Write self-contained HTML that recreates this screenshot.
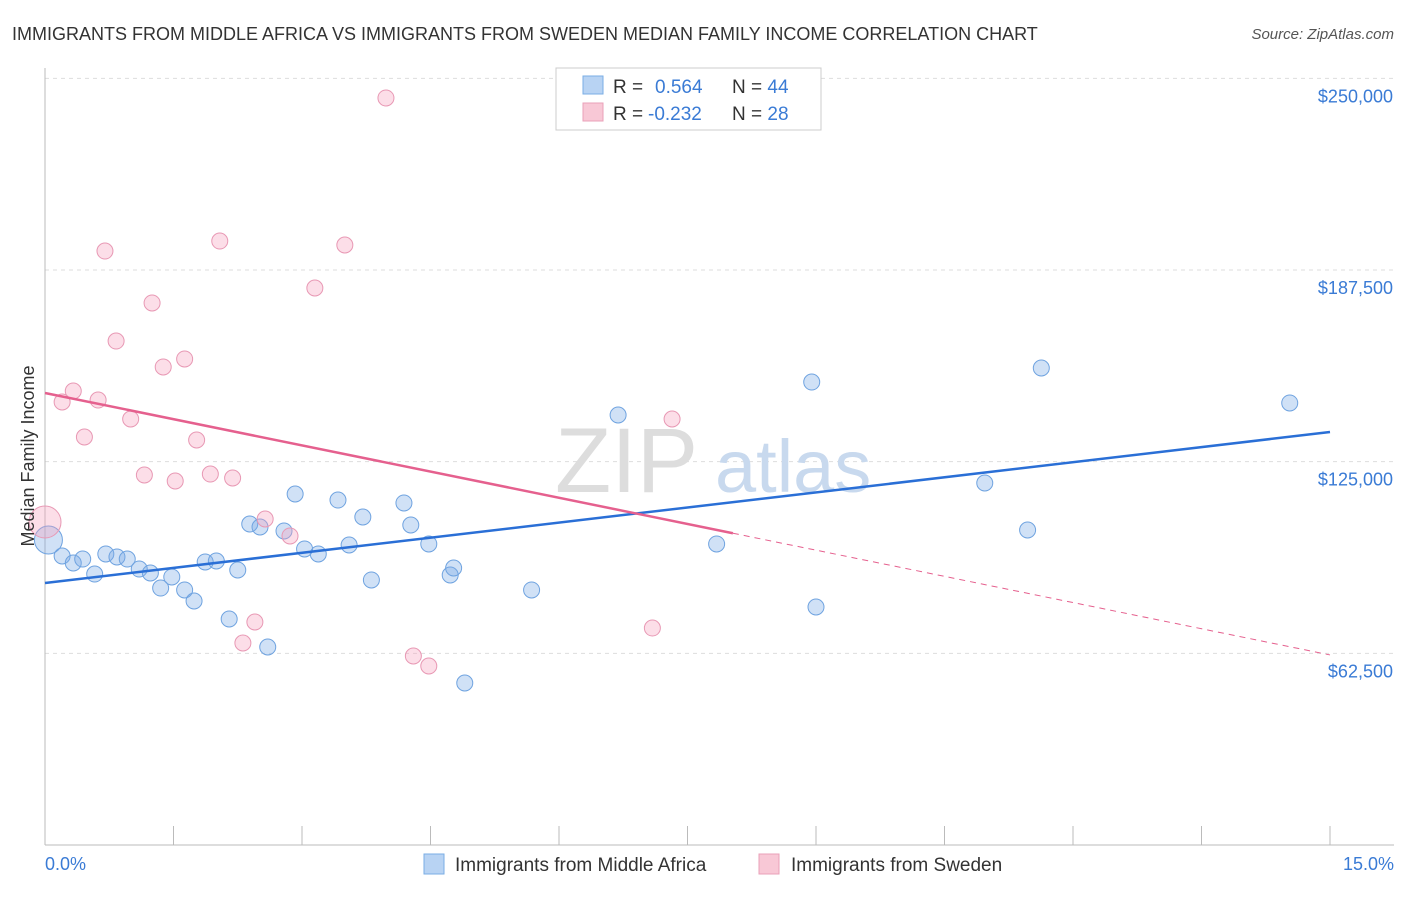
<!DOCTYPE html>
<html><head><meta charset="utf-8"><style>
body{margin:0;background:#fff;font-family:"Liberation Sans",sans-serif;}
svg text{font-family:"Liberation Sans",sans-serif;}
</style></head><body>
<svg id="chart" width="1406" height="892" viewBox="0 0 1406 892">
<text x="12" y="40" font-size="18" fill="#333">IMMIGRANTS FROM MIDDLE AFRICA VS IMMIGRANTS FROM SWEDEN MEDIAN FAMILY INCOME CORRELATION CHART</text>
<text x="1394" y="39" font-size="15" fill="#555" font-style="italic" text-anchor="end">Source: ZipAtlas.com</text>
<g id="grid"></g>
<g id="axes"></g>
<text x="555" y="492" font-size="92" fill="#ddd" font-family="Liberation Serif">ZIP</text>
<text x="715" y="492" font-size="74" fill="#c8d9ee">atlas</text>
<g id="marks"></g>
<text transform="translate(34,456) rotate(-90)" font-size="18" fill="#333" text-anchor="middle">Median Family Income</text>
<text x="45" y="870" font-size="18" fill="#3a7bd5">0.0%</text>
<text x="1394" y="870" font-size="18" fill="#3a7bd5" text-anchor="end">15.0%</text>
<g>
<rect x="556" y="68" width="265" height="62" fill="#fff" stroke="#ccc"/>
<rect x="583" y="76" width="20" height="18" fill="#b8d3f3" stroke="#7aaee5"/>
<rect x="583" y="103" width="20" height="18" fill="#f8c8d6" stroke="#eaa0b8"/>
<text x="613" y="93" font-size="19" fill="#333">R = <tspan fill="#3a7bd5" x="655">0.564</tspan><tspan x="732" fill="#333">N = </tspan><tspan fill="#3a7bd5">44</tspan></text>
<text x="613" y="120" font-size="19" fill="#333">R = <tspan fill="#3a7bd5" x="648">-0.232</tspan><tspan x="732" fill="#333">N = </tspan><tspan fill="#3a7bd5">28</tspan></text>
</g>
<g>
<rect x="424" y="854" width="20" height="20" fill="#b8d3f3" stroke="#7aaee5"/>
<text x="455" y="871" font-size="19" fill="#333">Immigrants from Middle Africa</text>
<rect x="759" y="854" width="20" height="20" fill="#f8c8d6" stroke="#eaa0b8"/>
<text x="791" y="871" font-size="19" fill="#333">Immigrants from Sweden</text>
</g>
</svg>
<script>
const yTicks=[62500,125000,187500,250000];
const yTickLabels=["$62,500","$125,000","$187,500","$250,000"];
const xTicks=[0,1.5,3,4.5,6,7.5,9,10.5,12,13.5,15];
const blueX=[0.04,0.2,0.33,0.44,0.58,0.71,0.84,0.96,1.10,1.23,1.35,1.48,1.63,1.74,1.87,2.0,2.15,2.25,2.39,2.51,2.60,2.79,2.92,3.03,3.19,3.42,3.55,3.71,3.81,4.19,4.27,4.48,4.73,4.77,4.90,5.68,6.69,7.84,8.95,9.0,10.97,11.47,11.63,14.53];
const blueY=[99460,94240,91960,93260,88370,94900,93920,93260,90000,88700,83800,87400,83160,79570,92290,92610,73700,89680,104680,103700,64570,102400,114460,96530,94900,112500,97830,106960,86420,111530,104350,98160,88050,90330,52830,83160,140220,98160,150980,77610,118050,102720,155550,144140];
const pinkX=[0.0,0.2,0.33,0.46,0.62,0.70,0.83,1.0,1.16,1.25,1.38,1.52,1.63,1.77,1.93,2.04,2.19,2.31,2.45,2.57,2.86,3.15,3.50,3.98,4.30,4.48,7.09,7.32];
const pinkY=[105330,144460,148050,133050,145110,193700,164350,138920,120660,176750,155880,118700,158490,132070,120980,196960,119680,65870,72720,106310,100770,181640,195660,243600,61630,58370,70760,138920];
const blueTrend=[85440,134680];
const pinkTrend=[147400,61980];
const pinkSolidEnd=8.03;
const NS="http://www.w3.org/2000/svg";
const xs=v=>45+v/15*1285;
const ys=v=>845-v/326.1;
function mk(tag,attrs,parent){const e=document.createElementNS(NS,tag);for(const k in attrs)e.setAttribute(k,attrs[k]);parent.appendChild(e);return e;}
const grid=document.getElementById('grid'),axes=document.getElementById('axes'),marks=document.getElementById('marks');
yTicks.forEach((t,i)=>{
 const l=mk('line',{x1:45,x2:1394,y1:ys(t),y2:ys(t),stroke:'#ddd','stroke-dasharray':'4,4'},grid);
 
 
 const tx=mk('text',{x:1393,y:ys(t)+24,'font-size':18,fill:'#3a7bd5','text-anchor':'end'},axes);
 tx.textContent=yTickLabels[i];
 
 
});
const ax=mk('line',{x1:45,x2:1394,y1:845,y2:845,stroke:'#bbb'},axes);


const ay=mk('line',{x1:45,x2:45,y1:68,y2:845,stroke:'#bbb'},axes);


xTicks.forEach(t=>{
 const l=mk('line',{x1:xs(t),x2:xs(t),y1:826,y2:845,stroke:'#bbb'},axes);
 
 
});
function dot(x,y,fill,stroke,r){
 const c=mk('circle',{cx:xs(x),cy:ys(y),r:r,fill:fill,stroke:stroke,'stroke-width':1},marks);
 return c;
}
blueX.forEach((x,i)=>{
 const c=dot(x,blueY[i],'rgba(120,170,230,0.35)','#6fa3e0',i===0?14:8);
 
 
});
pinkX.forEach((x,i)=>{
 const c=dot(x,pinkY[i],'rgba(245,160,190,0.35)','#e898b4',i===0?16:8);
 
 
});
const bl=mk('line',{x1:xs(0),y1:ys(blueTrend[0]),x2:xs(15),y2:ys(blueTrend[1]),stroke:'#2a6fd6','stroke-width':2.5},marks);


const pm=v=>pinkTrend[0]+(pinkTrend[1]-pinkTrend[0])*v/15;
const pl=mk('line',{x1:xs(0),y1:ys(pinkTrend[0]),x2:xs(pinkSolidEnd),y2:ys(pm(pinkSolidEnd)),stroke:'#e5608e','stroke-width':2.5},marks);


const pd=mk('line',{x1:xs(pinkSolidEnd),y1:ys(pm(pinkSolidEnd)),x2:xs(15),y2:ys(pinkTrend[1]),stroke:'#e5608e','stroke-width':1,'stroke-dasharray':'6,5'},marks);


</script>
</body></html>
